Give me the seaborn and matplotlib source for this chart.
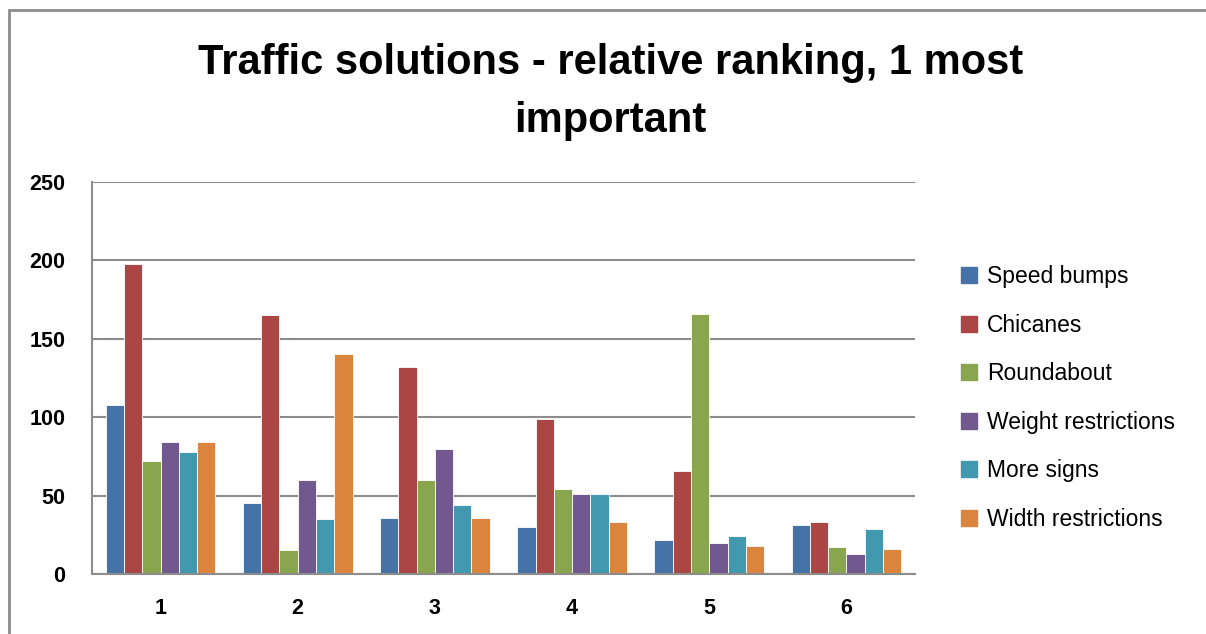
import numpy as np
import pandas as pd
import seaborn as sns
import matplotlib.pyplot as plt
from matplotlib.lines import Line2D

ranks = ["1", "2", "3", "4", "5", "6"]
speed_bumps = [108, 45, 36, 30, 22, 31]
chicanes = [198, 165, 132, 99, 66, 33]
roundabout = [72, 15, 60, 54, 166, 17]
weight_restrictions = [84, 60, 80, 51, 20, 13]
more_signs = [78, 35, 44, 51, 24, 29]
width_restrictions = [84, 140, 36, 33, 18, 16]

series = {
    "Speed bumps": speed_bumps,
    "Chicanes": chicanes,
    "Roundabout": roundabout,
    "Weight restrictions": weight_restrictions,
    "More signs": more_signs,
    "Width restrictions": width_restrictions,
}
colors = ["#4572A7", "#AA4643", "#89A54E", "#71588F", "#4198AF", "#DB843D"]

rows = []
for name, vals in series.items():
    for r, v in zip(ranks, vals):
        rows.append({"rank": r, "solution": name, "count": v})
df = pd.DataFrame(rows)

sns.set_style("white")
plt.rcParams["font.family"] = ["Liberation Sans", "DejaVu Sans"]
plt.rcParams["text.color"] = "black"
plt.rcParams["xtick.color"] = "black"
plt.rcParams["ytick.color"] = "black"

fig = plt.figure(figsize=(12.06, 6.34), dpi=100)
ax = fig.add_axes([92 / 1206, 1 - 574 / 634, 823 / 1206, 392 / 634])

sns.barplot(data=df, x="rank", y="count", hue="solution", palette=colors,
            saturation=1, width=0.8, edgecolor="white", linewidth=0.6,
            ax=ax, legend=False)

ax.set_ylim(0, 250)
ax.set_yticks([0, 50, 100, 150, 200, 250])
ax.yaxis.grid(True, color="#8c8c8c", linewidth=1.5)
ax.set_axisbelow(True)
ax.set_xlabel("")
ax.set_ylabel("")
for s in ["top", "right"]:
    ax.spines[s].set_visible(False)
for s in ["left", "bottom"]:
    ax.spines[s].set_color("#8c8c8c")
    ax.spines[s].set_linewidth(1.5)
ax.tick_params(axis="both", length=0, labelsize=15.5)
ax.tick_params(axis="y", pad=19)
ax.tick_params(axis="x", pad=17)
for lab in ax.get_xticklabels() + ax.get_yticklabels():
    lab.set_fontweight("bold")

fig.text(0.506, 1 - 92 / 634, "Traffic solutions - relative ranking, 1 most\nimportant",
         ha="center", va="center", fontsize=30, fontweight="bold",
         color="black", linespacing=1.55)

handles = [Line2D([0], [0], marker="s", linestyle="", markersize=11,
                  markerfacecolor=c, markeredgecolor=c) for c in colors]
fig.legend(handles, list(series.keys()), loc="upper left",
           bbox_to_anchor=(948 / 1206, 1 - 254 / 634), frameon=False,
           fontsize=16.5, handlelength=0.8, handletextpad=0.4,
           labelspacing=1.11, borderpad=0)

# outer chart border (top and left edges)
fig.add_artist(Line2D([9 / 1206, 9 / 1206], [0, 1 - 10 / 634],
                      transform=fig.transFigure, color="#8c8c8c", lw=2))
fig.add_artist(Line2D([9 / 1206, 1], [1 - 10 / 634, 1 - 10 / 634],
                      transform=fig.transFigure, color="#8c8c8c", lw=2))

fig.savefig("out.png", dpi=100)
